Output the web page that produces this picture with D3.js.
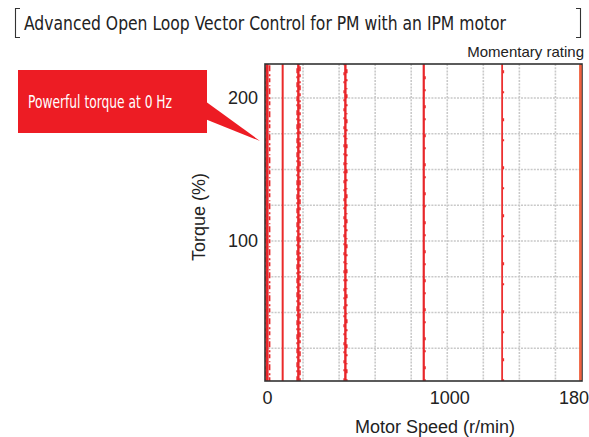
<!DOCTYPE html>
<html>
<head>
<meta charset="utf-8">
<script src="https://cdn.jsdelivr.net/npm/d3@7/dist/d3.min.js"></script>
<style>
  html, body { margin: 0; padding: 0; background: #fff; }
  svg { display: block; }
</style>
</head>
<body>
<svg id="chart" width="589" height="437"></svg>
<script>
// ---- data ----
const speeds = [0, 90, 180, 450, 900, 1350, 1800];          // r/min (0,3,6,15,30,45,60 Hz)
const torqueMin = [2, 2, 2, 2, 2, 2, 2];                    // %
const torqueMax = [224, 224, 224, 224, 224, 224, 224];      // % (beyond momentary rating)
const xTickValues = [0, 1000, 1800];
const xTickLabels = ["0", "1000", "180"];
const yTickValues = [100, 200];
const yTickLabels = ["100", "200"];
const gridSpeeds = [207, 414, 621, 828, 1035, 1242, 1449, 1656];
const gridTorques = [25, 50, 75, 100, 125, 150, 175, 200];
const titleText = "Advanced Open Loop Vector Control for PM with an IPM motor";
const calloutText = "Powerful torque at 0 Hz";
const noteText = "Momentary rating";
const xLabel = "Motor Speed (r/min)";
const yLabel = "Torque (%)";

// ---- layout ----
const box = { left: 265, right: 582, top: 64, bottom: 381 };
const svg = d3.select("#chart");

const x = d3.scaleLinear().domain([0, 1800]).range([267, 580.5]);
const y = d3.scaleLinear().domain([0, 200]).range([384, 98]);

// clip
svg.append("defs").append("clipPath").attr("id", "plotclip")
  .append("rect").attr("x", box.left).attr("y", box.top)
  .attr("width", box.right - box.left).attr("height", box.bottom - box.top);

const plot = svg.append("g").attr("clip-path", "url(#plotclip)");

// grid
plot.append("g").selectAll("line").data(gridTorques).join("line")
  .attr("x1", box.left).attr("x2", box.right)
  .attr("y1", d => y(d)).attr("y2", d => y(d))
  .attr("stroke", "#c9c9c9").attr("stroke-width", 1.6)
  .attr("stroke-dasharray", "2,1.2");
plot.append("g").selectAll("line").data(gridSpeeds).join("line")
  .attr("x1", d => x(d)).attr("x2", d => x(d))
  .attr("y1", box.top).attr("y2", box.bottom)
  .attr("stroke", "#c9c9c9").attr("stroke-width", 1.6)
  .attr("stroke-dasharray", "2,1.2");

// data lines
const lineData = speeds.map((s, i) => ({ s, lo: torqueMin[i], hi: torqueMax[i], i }));
const styles = [
  { w: 3.2, c: "#e8262a", jitter: [2.6, "4,2,2,3,6,2,1,3"], jitter2: [-1.8, "2,3,5,2,3,4"] },
  { w: 2.0, c: "#ea2a2a", jitter: null },
  { w: 2.4, c: "#e8262a", jitter: [1.6, "3,3,5,2,2,4"], jitter2: [-1.3, "5,4,2,3"] },
  { w: 2.4, c: "#e8262a", jitter: [1.4, "2,6,4,5,1,7"], jitter2: [-1.3, "3,7,2,6"] },
  { w: 2.2, c: "#e8262a", jitter: [1.2, "2,10,3,14"], jitter2: null },
  { w: 1.8, c: "#ec3030", jitter: [1.2, "2,18,3,25"], jitter2: null },
  { w: 2.4, c: "#f0603e", jitter: null }
];
const lines = plot.append("g");
lines.selectAll("line.main").data(lineData).join("line")
  .attr("class", "main")
  .attr("x1", d => x(d.s)).attr("x2", d => x(d.s))
  .attr("y1", d => y(d.lo)).attr("y2", d => y(d.hi))
  .attr("stroke", d => styles[d.i].c).attr("stroke-width", d => styles[d.i].w);
lines.selectAll("line.j1").data(lineData.filter(d => styles[d.i].jitter)).join("line")
  .attr("class", "j1")
  .attr("x1", d => x(d.s) + styles[d.i].jitter[0]).attr("x2", d => x(d.s) + styles[d.i].jitter[0])
  .attr("y1", d => y(d.lo)).attr("y2", d => y(d.hi))
  .attr("stroke", d => styles[d.i].c).attr("stroke-width", 1.6)
  .attr("stroke-dasharray", d => styles[d.i].jitter[1]);
lines.selectAll("line.j2").data(lineData.filter(d => styles[d.i].jitter2)).join("line")
  .attr("class", "j2")
  .attr("x1", d => x(d.s) + styles[d.i].jitter2[0]).attr("x2", d => x(d.s) + styles[d.i].jitter2[0])
  .attr("y1", d => y(d.lo)).attr("y2", d => y(d.hi))
  .attr("stroke", d => styles[d.i].c).attr("stroke-width", 1.4)
  .attr("stroke-dasharray", d => styles[d.i].jitter2[1]);

// frame
svg.append("rect").attr("x", box.left).attr("y", box.top)
  .attr("width", box.right - box.left).attr("height", box.bottom - box.top)
  .attr("fill", "none").attr("stroke", "#333").attr("stroke-width", 1.6);
// re-draw right-most (1800) line over frame
svg.append("line")
  .attr("x1", x(speeds[6])).attr("x2", x(speeds[6]))
  .attr("y1", box.top + 1).attr("y2", box.bottom - 1)
  .attr("stroke", styles[6].c).attr("stroke-width", 2.4);

// axes
const xAxis = d3.axisBottom(x).tickValues(xTickValues)
  .tickFormat((d, i) => xTickLabels[i]).tickSize(0).tickPadding(10);
const gx = svg.append("g").attr("transform", `translate(0,${box.bottom})`).call(xAxis);
gx.select(".domain").remove();
gx.selectAll("text").attr("font-family", "'Liberation Sans', Arial, sans-serif")
  .attr("font-size", 18).attr("fill", "#222")
  .attr("dx", (d, i) => [0, 8, -7][i]);

const yAxis = d3.axisLeft(y).tickValues(yTickValues)
  .tickFormat((d, i) => yTickLabels[i]).tickSize(0).tickPadding(7);
const gy = svg.append("g").attr("transform", `translate(${box.left},0)`).call(yAxis);
gy.select(".domain").remove();
gy.selectAll("text").attr("font-family", "'Liberation Sans', Arial, sans-serif")
  .attr("font-size", 18).attr("fill", "#222");

// axis titles
svg.append("text").text(xLabel)
  .attr("x", 435).attr("y", 433).attr("text-anchor", "middle")
  .attr("font-family", "'Liberation Sans', Arial, sans-serif").attr("font-size", 18).attr("fill", "#222");
svg.append("text").text(yLabel)
  .attr("transform", "translate(205,217) rotate(-90)").attr("text-anchor", "middle")
  .attr("font-family", "'Liberation Sans', Arial, sans-serif").attr("font-size", 18).attr("fill", "#222");

// title + brackets
svg.append("text").text(titleText)
  .attr("x", 24).attr("y", 30)
  .attr("font-family", "'Liberation Sans Narrow', 'DejaVu Sans Condensed', 'Open Sans', sans-serif")
  .attr("font-size", 20).attr("fill", "#222")
  .attr("textLength", 482).attr("lengthAdjust", "spacingAndGlyphs");
svg.append("path").attr("d", "M20,8.5 H15.5 V37.5 H20")
  .attr("fill", "none").attr("stroke", "#333").attr("stroke-width", 1.1);
svg.append("path").attr("d", "M576,8.5 H580.5 V37.5 H576")
  .attr("fill", "none").attr("stroke", "#333").attr("stroke-width", 1.1);

// momentary rating
svg.append("text").text(noteText)
  .attr("x", 584).attr("y", 57).attr("text-anchor", "end")
  .attr("font-family", "'Liberation Sans', Arial, sans-serif").attr("font-size", 15).attr("fill", "#222");

// callout
const callout = svg.append("g");
callout.append("path").attr("d", "M205,101 L260,141 L205,119 Z").attr("fill", "#ed1c24");
callout.append("rect").attr("x", 18).attr("y", 70).attr("width", 189).attr("height", 63)
  .attr("fill", "#ed1c24");
callout.append("text").text(calloutText)
  .attr("x", 28).attr("y", 108)
  .attr("font-family", "'Liberation Sans Narrow', 'DejaVu Sans Condensed', 'Open Sans', sans-serif")
  .attr("font-size", 18).attr("fill", "#fff")
  .attr("textLength", 144).attr("lengthAdjust", "spacingAndGlyphs");
</script>
</body>
</html>
